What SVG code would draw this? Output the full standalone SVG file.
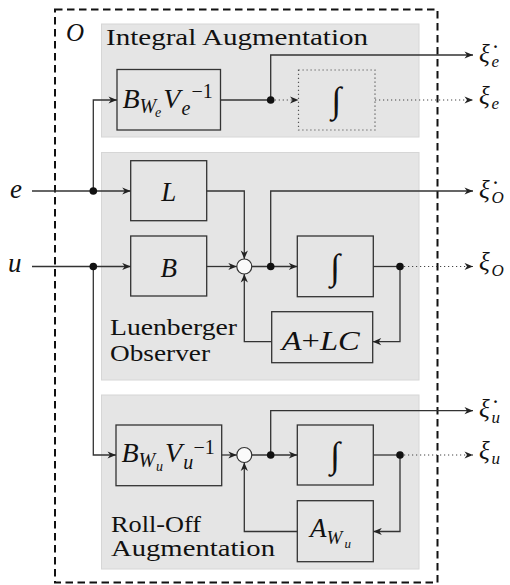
<svg xmlns="http://www.w3.org/2000/svg" width="510" height="585" viewBox="0 0 510 585">
<defs>
<style>
.bg{fill:#ffffff}
.outer{fill:none;stroke:#111;stroke-width:2;stroke-dasharray:7.5 4.5}
.panel{fill:#e5e5e5;stroke:#d6d6d6;stroke-width:1}
.box{fill:none;stroke:#333;stroke-width:1.3}
.dbox{fill:none;stroke:#555;stroke-width:1.2;stroke-dasharray:1.2 2.8}
.w{fill:none;stroke:#333;stroke-width:1.3;marker-end:url(#arr)}
.wn{fill:none;stroke:#333;stroke-width:1.3}
.wd{fill:none;stroke:#444;stroke-width:1.2;stroke-dasharray:1.2 2.8;marker-end:url(#arr)}
.dot{fill:#111}
.sum{fill:#fafafa;stroke:#333;stroke-width:1.2}
.t{font-size:24px;fill:#111}
.m{font-style:italic;fill:#111}
.r{font-style:normal}
.int{font-size:36px;fill:#111;text-anchor:middle}
</style>
<marker id="arr" viewBox="-9 -4 10 8" refX="0" refY="0" markerWidth="10" markerHeight="8" markerUnits="userSpaceOnUse" orient="auto">
<path d="M0,0 L-8.5,-3.6 L-6,0 L-8.5,3.6 Z" fill="#222"/>
</marker>
</defs>
<rect class="bg" x="0" y="0" width="510" height="585"/>

<g id="diagram" font-family="Liberation Serif, Times New Roman, serif">
<g id="observer-frame">
<rect class="outer" x="55" y="9.5" width="382.5" height="573"/>
<text class="m" x="66" y="41" font-size="25">O</text>
</g>

<g id="panel-integral">
<rect class="panel" x="101.5" y="24" width="317.5" height="113"/>
<text class="t" x="106" y="45" textLength="262" lengthAdjust="spacingAndGlyphs">Integral Augmentation</text>
</g>
<g id="panel-luenberger">
<rect class="panel" x="101.5" y="152.5" width="317.5" height="227.5"/>
<text class="t" x="110" y="334.5" textLength="127" lengthAdjust="spacingAndGlyphs">Luenberger</text>
<text class="t" x="110" y="361" textLength="100" lengthAdjust="spacingAndGlyphs">Observer</text>
</g>
<g id="panel-rolloff">
<rect class="panel" x="101.5" y="395" width="317.5" height="174"/>
<text class="t" x="111" y="531.5" textLength="90" lengthAdjust="spacingAndGlyphs">Roll-Off</text>
<text class="t" x="111" y="556" textLength="164" lengthAdjust="spacingAndGlyphs">Augmentation</text>
</g>

<g id="node-BWeVe">
<rect class="box" x="117" y="69.5" width="103.5" height="60.5"/>
<text class="m"><tspan x="122.5" y="108.3" font-size="28">B</tspan><tspan x="139.5" y="113" font-size="20">W</tspan><tspan x="155" y="116.5" font-size="14">e</tspan><tspan x="163.3" y="108.3" font-size="28">V</tspan><tspan x="181.5" y="114.5" font-size="20">e</tspan><tspan class="r" x="191.5" y="98" font-size="20">−1</tspan></text>
</g>
<g id="node-int-e">
<rect class="dbox" x="298.5" y="70" width="76.5" height="60"/>
<text class="int" x="336.5" y="112">∫</text>
</g>

<g id="node-L">
<rect class="box" x="130.7" y="160.7" width="76" height="60"/>
<text class="m" x="168.7" y="201" font-size="27" text-anchor="middle">L</text>
</g>
<g id="node-B">
<rect class="box" x="130.7" y="236" width="76" height="60"/>
<text class="m" x="168.7" y="276.7" font-size="27" text-anchor="middle">B</text>
</g>
<g id="node-sum-O">
<circle class="sum" cx="244.3" cy="266.5" r="7.5"/>
</g>
<g id="node-int-O">
<rect class="box" x="297.3" y="236" width="76" height="60.7"/>
<text class="int" x="335.3" y="278.5">∫</text>
</g>
<g id="node-ALC">
<rect class="box" x="271.7" y="311.7" width="101" height="51"/>
<text class="m" x="281.7" y="350" font-size="27" textLength="78" lengthAdjust="spacingAndGlyphs">A<tspan class="r">+</tspan>LC</text>
</g>

<g id="node-BWuVu">
<rect class="box" x="116" y="425" width="105.7" height="60.7"/>
<text class="m"><tspan x="121.5" y="462" font-size="28">B</tspan><tspan x="138.5" y="467" font-size="20">W</tspan><tspan x="156" y="470.5" font-size="14">u</tspan><tspan x="165" y="462" font-size="28">V</tspan><tspan x="183.3" y="468.5" font-size="20">u</tspan><tspan class="r" x="193.5" y="454" font-size="20">−1</tspan></text>
</g>
<g id="node-sum-u">
<circle class="sum" cx="244.3" cy="455" r="7.5"/>
</g>
<g id="node-int-u">
<rect class="box" x="297.3" y="425" width="76" height="60"/>
<text class="int" x="335.3" y="467">∫</text>
</g>
<g id="node-AWu">
<rect class="box" x="297.3" y="500.7" width="76" height="61"/>
<text class="m"><tspan x="310" y="536.7" font-size="27">A</tspan><tspan x="326.5" y="544" font-size="19">W</tspan><tspan x="344.5" y="548" font-size="13">u</tspan></text>
</g>

<g id="inputs-outputs">
<text class="m" x="10" y="198" font-size="27">e</text>
<text class="m" x="8" y="272" font-size="27">u</text>
<text class="m" font-size="25"><tspan x="479" y="61.5">ξ̇</tspan><tspan x="491.5" y="67" font-size="17">e</tspan></text>
<text class="m" font-size="25"><tspan x="479" y="103.5">ξ</tspan><tspan x="491.5" y="109" font-size="17">e</tspan></text>
<text class="m" font-size="25"><tspan x="479" y="197.5">ξ̇</tspan><tspan x="491.5" y="203" font-size="17">O</tspan></text>
<text class="m" font-size="25"><tspan x="479" y="270">ξ</tspan><tspan x="491.5" y="275.5" font-size="17">O</tspan></text>
<text class="m" font-size="25"><tspan x="479" y="417">ξ̇</tspan><tspan x="491.5" y="422.5" font-size="17">u</tspan></text>
<text class="m" font-size="25"><tspan x="479" y="458.5">ξ</tspan><tspan x="491.5" y="464" font-size="17">u</tspan></text>
</g>

<g id="connectors">
<path class="w" d="M32,191 H130.7"/>
<path class="w" d="M93.3,191 V100 H117"/>
<path class="w" d="M32,266.5 H130.7"/>
<path class="w" d="M93.3,266.5 V455 H116"/>
<path class="wn" d="M220.5,100 H270.7"/>
<path class="w" d="M270.7,100 V55 H473"/>
<path class="wd" d="M270.7,100 H298.5"/>
<path class="wd" d="M375,100 H473"/>
<path class="w" d="M206.7,191 H244.3 V259"/>
<path class="w" d="M206.7,266.5 H236.8"/>
<path class="w" d="M251.8,266.5 H297.3"/>
<path class="w" d="M270.7,266.5 V191 H473"/>
<path class="wn" d="M373.3,266.5 H400"/>
<path class="wd" d="M400,266.5 H473"/>
<path class="w" d="M400,266.5 V341.7 H372.7"/>
<path class="w" d="M271.7,341.7 H244.3 V274"/>
<path class="w" d="M221.7,455 H236.8"/>
<path class="w" d="M251.8,455 H297.3"/>
<path class="w" d="M270.7,455 V410.7 H473"/>
<path class="wn" d="M373.3,455 H400"/>
<path class="wd" d="M400,455 H473"/>
<path class="w" d="M400,455 V531.5 H373.3"/>
<path class="w" d="M297.3,531.5 H244.3 V462.5"/>
<circle class="dot" cx="93.3" cy="191" r="3.8"/>
<circle class="dot" cx="93.3" cy="266.5" r="3.8"/>
<circle class="dot" cx="270.7" cy="100" r="3.8"/>
<circle class="dot" cx="270.7" cy="266.5" r="3.8"/>
<circle class="dot" cx="400" cy="266.5" r="3.8"/>
<circle class="dot" cx="270.7" cy="455" r="3.8"/>
<circle class="dot" cx="400" cy="455" r="3.8"/>
</g>
</g>
</svg>
